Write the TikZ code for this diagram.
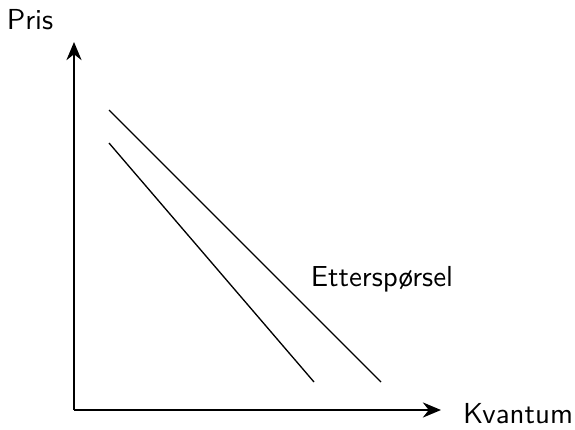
\documentclass[tikz,border=0pt]{standalone}
\usepackage{tikz}
\usetikzlibrary{arrows.meta,positioning}
\renewcommand{\familydefault}{\sfdefault}
\tikzset{
  axis/.style ={-{Stealth[length=2.4mm,width=2mm]},line width=0.9pt},
  curve/.style={line width=0.5pt},
  lbl/.style  ={font=\sffamily\fontsize{10.9}{13}\selectfont,inner sep=1pt},
}

\begin{document}
\begin{tikzpicture}[x=0.01325cm,y=0.01325cm]
  \useasboundingbox (0,0) rectangle (575,429);
  % axes
  \coordinate (o) at (74,19);
  \coordinate (ytop) at (74,387);
  \coordinate (xend) at (441,19);
  \draw[axis] (o) -- (ytop);
  \draw[axis] (o) -- (xend);
  \node[lbl] (pris) at (30,409) {Pris};
  \node[lbl,anchor=west] (kvantum) at (460,15) {Kvantum};
  % demand curves
  \coordinate (d1a) at (109,319);
  \coordinate (d1b) at (381,47);
  \coordinate (d2a) at (109,286);
  \coordinate (d2b) at (314,47);
  \draw[curve] (d1a) -- (d1b);
  \draw[curve] (d2a) -- (d2b);
  \node[lbl] (ettersp) at (382,150) {Etterspørsel};
\end{tikzpicture}
\end{document}
